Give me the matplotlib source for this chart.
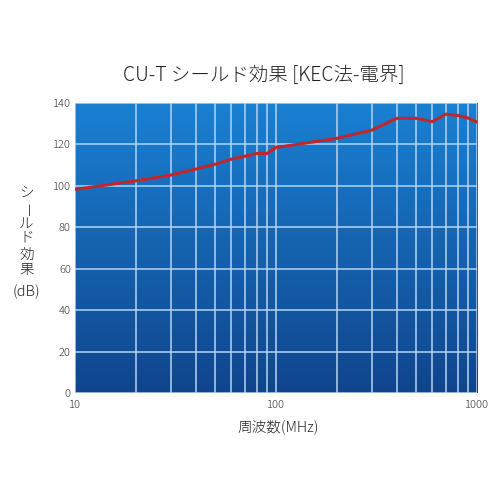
import numpy as np
import matplotlib
matplotlib.use("Agg")
import matplotlib.pyplot as plt
from matplotlib.colors import LinearSegmentedColormap
from matplotlib.ticker import FixedLocator, NullFormatter

plt.rcParams['font.family'] = ['Noto Sans CJK JP', 'DejaVu Sans']
plt.rcParams['font.weight'] = 'light'

freqs = [10, 20, 30, 40, 50, 60, 70, 80, 90, 100,
         200, 300, 400, 500, 600, 700, 800, 900, 1000]
shield_db = [98.3, 102.4, 105.2, 108.1, 110.5, 112.9, 114.3, 115.6, 115.6, 118.5,
             122.9, 126.9, 132.6, 132.6, 131.0, 134.6, 134.0, 132.8, 130.8]
y_ticks = [0, 20, 40, 60, 80, 100, 120, 140]
x_ticks = [10, 100, 1000]

fig = plt.figure(figsize=(5, 5), dpi=100)
ax = fig.add_axes([0.15, 0.214, 0.804, 0.58])

# vertical gradient background
cmap = LinearSegmentedColormap.from_list("bg", ["#10458c", "#1a80d2"])
grad = np.linspace(0, 1, 256).reshape(-1, 1)
ax.imshow(grad, cmap=cmap, origin="lower", aspect="auto",
          extent=[0, 1, 0, 1], transform=ax.transAxes, zorder=0)

ax.plot(freqs, shield_db, color="#c0272d", lw=2.2, zorder=3,
        solid_joinstyle="round")

ax.set_xscale("log")
ax.set_xlim(10, 1000)
ax.set_ylim(0, 140)
ax.xaxis.set_major_locator(FixedLocator(x_ticks))
ax.set_xticklabels([str(v) for v in x_ticks])
ax.xaxis.set_minor_locator(FixedLocator([f for f in freqs if f not in x_ticks]))
ax.xaxis.set_minor_formatter(NullFormatter())
ax.set_yticks(y_ticks)

ax.grid(True, which="both", axis="x", color="#b4d4f2", lw=1.1, zorder=1)
ax.grid(True, which="major", axis="y", color="#b4d4f2", lw=1.1, zorder=1)
ax.set_axisbelow(False)
for s in ax.spines.values():
    s.set_visible(False)
ax.tick_params(which="both", length=0, labelsize=8, labelcolor="#333333")
ax.tick_params(axis="x", pad=5)
ax.tick_params(axis="y", pad=3)

fig.text(0.527, 0.85, "CU-T シールド効果 [KEC法-電界]", ha="center", va="center",
         fontsize=14, color="#222222")
fig.text(0.556, 0.146, "周波数(MHz)", ha="center", va="center",
         fontsize=10.5, color="#222222")

ylab = [("シ", 193), ("ー", 210), ("ル", 225), ("ド", 238),
        ("効", 255), ("果", 270), ("(dB)", 292)]
for ch, yp in ylab:
    rot = -90 if ch == "ー" else 0
    fig.text(0.053, 1 - yp / 500, ch, ha="center", va="center",
             fontsize=10.5, color="#222222", rotation=rot)

fig.savefig("out.png", dpi=100)
